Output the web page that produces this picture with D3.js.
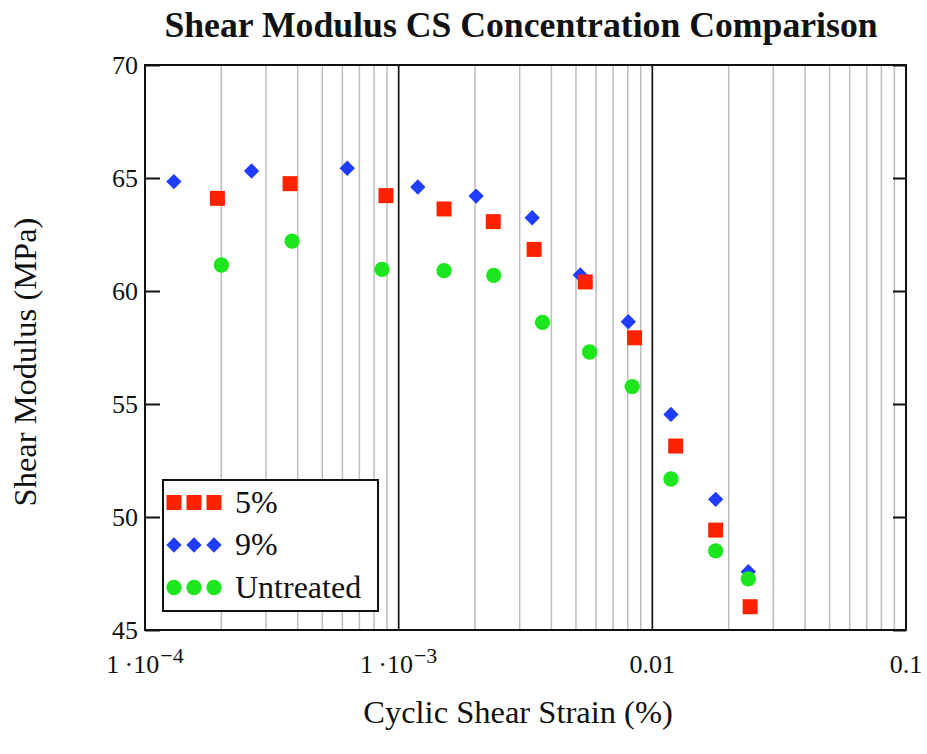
<!DOCTYPE html>
<html>
<head>
<meta charset="utf-8">
<script src="https://cdn.jsdelivr.net/npm/d3@7"></script>
<style>
  html, body { margin: 0; padding: 0; background: #ffffff; }
  svg { display: block; }
  text { font-family: "Liberation Serif", "Times New Roman", serif; fill: #111; }
</style>
</head>
<body>
<svg id="chart" width="927" height="754"></svg>
<script>
// Cyclic shear strain (%) and shear modulus (MPa) for each treatment
const strain9 = [1.30e-4, 2.63e-4, 6.27e-4, 1.19e-3, 2.02e-3, 3.36e-3, 5.20e-3, 8.04e-3, 0.01184, 0.01777, 0.0239];
const modulus9 = [64.84, 65.31, 65.43, 64.60, 64.20, 63.24, 60.71, 58.64, 54.54, 50.78, 47.58];

const strain5 = [1.93e-4, 3.73e-4, 8.91e-4, 1.51e-3, 2.36e-3, 3.42e-3, 5.44e-3, 8.51e-3, 0.01236, 0.01777, 0.0243];
const modulus5 = [64.10, 64.75, 64.22, 63.63, 63.07, 61.84, 60.40, 57.93, 53.14, 49.42, 46.03];

const strainU = [2.00e-4, 3.80e-4, 8.60e-4, 1.51e-3, 2.37e-3, 3.69e-3, 5.66e-3, 8.33e-3, 0.01184, 0.01777, 0.0239];
const modulusU = [61.15, 62.21, 60.96, 60.90, 60.69, 58.61, 57.30, 55.77, 51.68, 48.50, 47.26];

const seriesNames = ["5%", "9%", "Untreated"];
const yTickValues = [45, 50, 55, 60, 65, 70];
const xTickValues = [1e-4, 1e-3, 1e-2, 1e-1];
const xTickBase = ["1\u2009\u00b710", "1\u2009\u00b710", "0.01", "0.1"];
const xTickExp = ["\u22124", "\u22123", "", ""];

const svg = d3.select("#chart");
const plotLeft = 145, plotRight = 906, plotTop = 65, plotBottom = 630;

const x = d3.scaleLog().domain([1e-4, 0.1]).range([plotLeft, plotRight]);
const y = d3.scaleLinear().domain([45, 70]).range([plotBottom, plotTop]);

const colors = { "5%": "#ff2200", "9%": "#1f3cff", "Untreated": "#1ee61e" };

// Minor (2..9) and major decade grid lines
const minor = [];
for (let k = -4; k <= -2; k++) {
  for (let m = 2; m <= 9; m++) minor.push(m * Math.pow(10, k));
}
svg.append("g").selectAll("line").data(minor).join("line")
  .attr("x1", d => x(d)).attr("x2", d => x(d))
  .attr("y1", plotTop).attr("y2", plotBottom)
  .attr("stroke", "#bdbdbd").attr("stroke-width", 1.5);

svg.append("g").selectAll("line").data([1e-3, 1e-2]).join("line")
  .attr("x1", d => x(d)).attr("x2", d => x(d))
  .attr("y1", plotTop).attr("y2", plotBottom)
  .attr("stroke", "#111").attr("stroke-width", 1.7);

// Frame
svg.append("rect")
  .attr("x", plotLeft).attr("y", plotTop)
  .attr("width", plotRight - plotLeft).attr("height", plotBottom - plotTop)
  .attr("fill", "none").attr("stroke", "#111").attr("stroke-width", 2);

// Y axes with inward ticks
const yAxisL = svg.append("g").attr("transform", `translate(${plotLeft},0)`)
  .call(d3.axisLeft(y).tickValues(yTickValues).tickSizeInner(-15).tickSizeOuter(0).tickPadding(7));
yAxisL.select(".domain").remove();
yAxisL.selectAll(".tick line").attr("stroke", "#111").attr("stroke-width", 2);
yAxisL.selectAll(".tick text")
  .style("font-family", "'Liberation Serif', serif")
  .style("font-size", "26px").attr("fill", "#222");

const yAxisR = svg.append("g").attr("transform", `translate(${plotRight},0)`)
  .call(d3.axisRight(y).tickValues(yTickValues).tickSizeInner(-13).tickSizeOuter(0).tickFormat(""));
yAxisR.select(".domain").remove();
yAxisR.selectAll(".tick line").attr("stroke", "#111").attr("stroke-width", 2);

// X tick labels with superscript exponents
const xl = svg.append("g").selectAll("text").data(xTickValues).join("text")
  .attr("x", d => x(d)).attr("y", 673)
  .attr("text-anchor", "middle")
  .style("font-size", "26px").attr("fill", "#222");
xl.append("tspan").text((d, i) => xTickBase[i]);
xl.append("tspan")
  .attr("dy", -10).attr("dx", 1)
  .style("font-size", "22px")
  .text((d, i) => xTickExp[i]);

// Markers
const symSize = { "5%": 225, "9%": 150, "Untreated": 185 };
const symType = { "5%": d3.symbolSquare, "9%": d3.symbolDiamond2, "Untreated": d3.symbolCircle };

function drawSeries(name, xs, ys) {
  const pts = xs.map((v, i) => ({ s: v, g: ys[i] }));
  svg.append("g").selectAll("path").data(pts).join("path")
    .attr("transform", d => `translate(${x(d.s)},${y(d.g)})`)
    .attr("d", d3.symbol(symType[name], symSize[name]))
    .attr("fill", colors[name]);
}
drawSeries("9%", strain9, modulus9);
drawSeries("5%", strain5, modulus5);
drawSeries("Untreated", strainU, modulusU);

// Legend
const lg = svg.append("g");
lg.append("rect")
  .attr("x", 163).attr("y", 480).attr("width", 215).attr("height", 131)
  .attr("fill", "#fff").attr("stroke", "#111").attr("stroke-width", 2);
seriesNames.forEach((name, i) => {
  const cy = 502.5 + i * 42.5;
  [174, 194, 214].forEach(cx => {
    lg.append("path")
      .attr("transform", `translate(${cx},${cy})`)
      .attr("d", d3.symbol(symType[name], symSize[name]))
      .attr("fill", colors[name]);
  });
  lg.append("text")
    .attr("x", 235).attr("y", cy + 10)
    .style("font-size", "32px")
    .text(name);
});

// Titles
svg.append("text")
  .attr("x", 521).attr("y", 37).attr("text-anchor", "middle")
  .style("font-size", "35.7px").style("font-weight", "bold")
  .text("Shear Modulus CS Concentration Comparison");

svg.append("text")
  .attr("x", 518).attr("y", 723).attr("text-anchor", "middle")
  .style("font-size", "32.5px")
  .text("Cyclic Shear Strain (%)");

svg.append("text")
  .attr("transform", "translate(36,362) rotate(-90)")
  .attr("text-anchor", "middle")
  .style("font-size", "32.5px")
  .text("Shear Modulus (MPa)");
</script>
</body>
</html>
